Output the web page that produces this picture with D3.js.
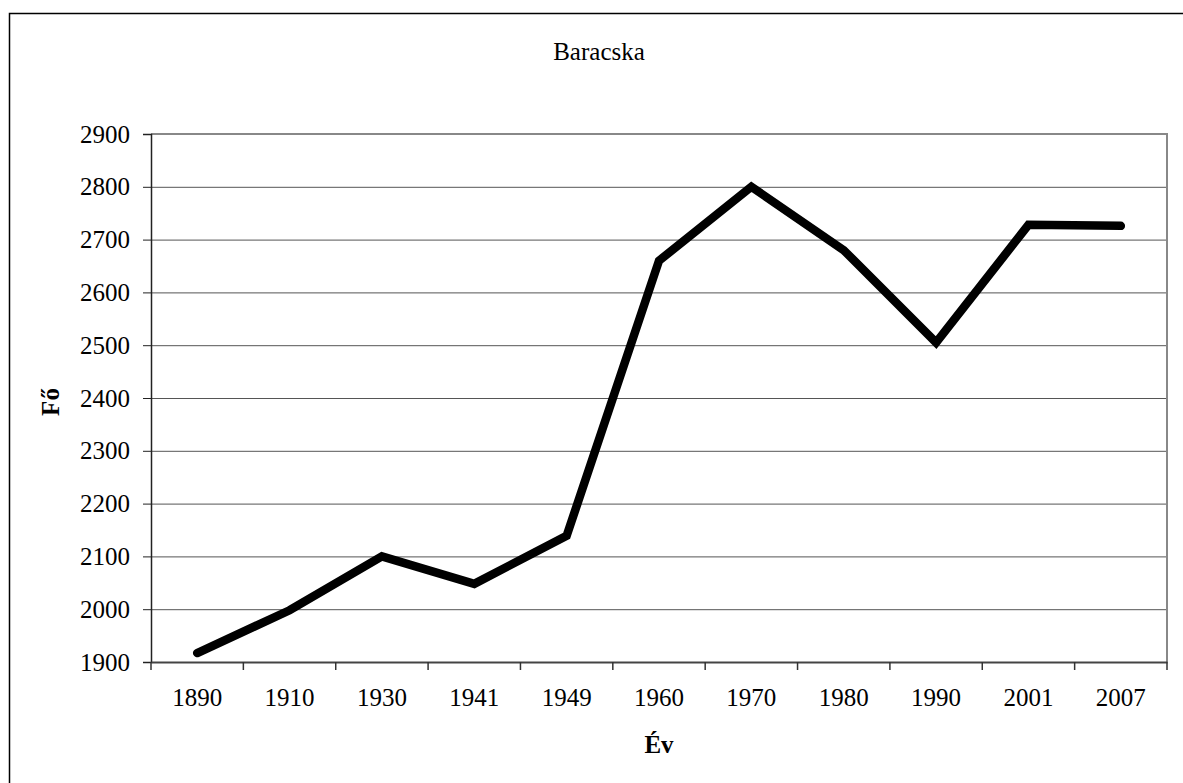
<!DOCTYPE html>
<html>
<head>
<meta charset="utf-8">
<script src="https://cdn.jsdelivr.net/npm/d3@7"></script>
<style>
  body { margin: 0; background: #fff; }
  text { font-family: "Liberation Serif", "Times New Roman", serif; fill: #000; }
</style>
</head>
<body>
<svg width="1183" height="783"></svg>
<script>
const svg = d3.select('svg');

// data
const years = ['1890', '1910', '1930', '1941', '1949', '1960', '1970', '1980', '1990', '2001', '2007'];
const population = [1917, 1998, 2100, 2048, 2139, 2660, 2800, 2680, 2505, 2728, 2726];
const yTicks = [1900, 2000, 2100, 2200, 2300, 2400, 2500, 2600, 2700, 2800, 2900];

const plotLeft = 151, plotRight = 1167, plotTop = 134, plotBottom = 662;

// outer frame (only left and top visible)
svg.append('path')
  .attr('d', 'M9.5,783 L9.5,13.5 L1183,13.5')
  .attr('fill', 'none')
  .attr('stroke', '#000')
  .attr('stroke-width', 1.5);

const x = d3.scaleBand().domain(years).range([plotLeft, plotRight]).padding(0);
const y = d3.scaleLinear().domain([1900, 2900]).range([plotBottom, plotTop]);

// gridlines
svg.append('g')
  .selectAll('line')
  .data(yTicks.slice(1, -1))
  .enter().append('line')
  .attr('x1', plotLeft).attr('x2', plotRight)
  .attr('y1', d => y(d) + 0.5).attr('y2', d => y(d) + 0.5)
  .attr('stroke', '#555')
  .attr('stroke-width', 1);

// plot border top & right
svg.append('path')
  .attr('d', `M${plotLeft},${plotTop} L${plotRight},${plotTop} L${plotRight},${plotBottom}`)
  .attr('fill', 'none')
  .attr('stroke', '#888')
  .attr('stroke-width', 2);

// y axis
const yAxis = svg.append('g')
  .attr('transform', `translate(${plotLeft},0)`)
  .call(d3.axisLeft(y).tickValues(yTicks).tickSize(8).tickPadding(13).tickFormat(d3.format('d')));
yAxis.select('.domain').attr('stroke', '#222').attr('stroke-width', 1.5);
yAxis.selectAll('.tick line').attr('stroke', '#222');
yAxis.selectAll('text')
  .style('font-family', '"Liberation Serif", serif')
  .style('font-size', '25px')
  .attr('fill', '#000');

// x axis
const xAxis = svg.append('g')
  .attr('transform', `translate(0,${plotBottom})`)
  .call(d3.axisBottom(x).tickSize(0).tickPadding(26));
xAxis.select('.domain').attr('stroke', '#444').attr('stroke-width', 2);
xAxis.selectAll('text')
  .style('font-family', '"Liberation Serif", serif')
  .style('font-size', '25px')
  .attr('fill', '#000');

// category boundary ticks
svg.append('g')
  .selectAll('line')
  .data(years.concat(['end']))
  .enter().append('line')
  .attr('x1', (d, i) => (i < years.length ? x(d) : plotRight))
  .attr('x2', (d, i) => (i < years.length ? x(d) : plotRight))
  .attr('y1', plotBottom).attr('y2', plotBottom + 8)
  .attr('stroke', '#333')
  .attr('stroke-width', 1.5);

// the line
const line = d3.line()
  .x((d, i) => x(years[i]) + x.bandwidth() / 2)
  .y(d => y(d));

svg.append('path')
  .datum(population)
  .attr('d', line)
  .attr('fill', 'none')
  .attr('stroke', '#000')
  .attr('stroke-width', 8.5)
  .attr('stroke-linejoin', 'miter')
  .attr('stroke-linecap', 'round');

// titles
svg.append('text')
  .attr('x', 599).attr('y', 60)
  .attr('text-anchor', 'middle')
  .style('font-size', '25px')
  .text('Baracska');

svg.append('text')
  .attr('x', (plotLeft + plotRight) / 2).attr('y', 753)
  .attr('text-anchor', 'middle')
  .style('font-size', '25px')
  .style('font-weight', 'bold')
  .text('Év');

svg.append('text')
  .attr('transform', `translate(59,${(plotTop + plotBottom) / 2 + 4}) rotate(-90)`)
  .attr('text-anchor', 'middle')
  .style('font-size', '25px')
  .style('font-weight', 'bold')
  .text('Fő');
</script>
</body>
</html>
